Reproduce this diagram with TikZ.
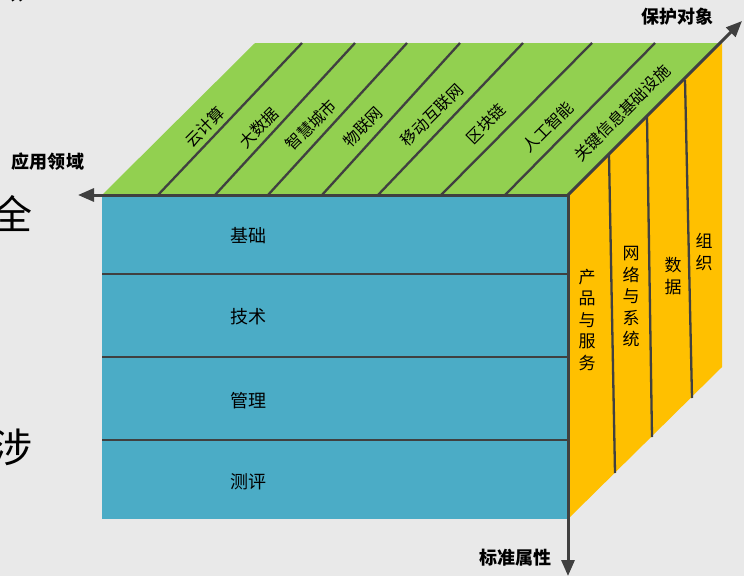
\documentclass[tikz,border=0pt]{standalone}
\usepackage{fontspec}
\newfontfamily\cjk{Noto Sans CJK SC}
\usetikzlibrary{arrows.meta}
\definecolor{bggray}{RGB}{233,233,233}
\definecolor{faceblue}{RGB}{75,172,198}
\definecolor{facegreen}{RGB}{146,208,80}
\definecolor{faceyellow}{RGB}{255,192,0}
\definecolor{edgegray}{RGB}{64,64,64}
\tikzstyle{axis}=[draw=edgegray, line width=3pt, -{Triangle[length=16pt,width=13pt]}]
\tikzstyle{divider}=[draw=edgegray, line width=2.3pt]
\tikzstyle{axislabel}=[font=\cjk\bfseries\fontsize{18}{18}\selectfont, inner sep=0pt]
\tikzstyle{toplabel}=[font=\cjk\fontsize{16}{16}\selectfont, rotate=45, inner sep=0pt]
\tikzstyle{sidelabel}=[font=\cjk\fontsize{17}{21.5}\selectfont, align=center, inner sep=0pt]
\tikzstyle{rowlabel}=[font=\cjk\fontsize{18}{18}\selectfont, inner sep=0pt]
\tikzstyle{slidetext}=[font=\cjk\fontsize{40}{40}\selectfont, inner sep=0pt]

\begin{document}
\begin{tikzpicture}[x=1pt, y=-1pt]
        \fill[bggray] (0,0) rectangle (744,576);
        \useasboundingbox (0,0) rectangle (744,576);
        % cut-off text of the slide
        \node[slidetext] (s1) at (12,214) {全};
        \node[slidetext] (s2) at (12,447) {涉};
        \node[slidetext] (s3) at (5,541) {，};
        \node[slidetext] (s4) at (30,8) {”};
        % corners of the cube
        \coordinate (o) at (568,195);
        \coordinate (fl) at (102,195);
        \coordinate (bl) at (102,519);
        \coordinate (br) at (568,519);
        \coordinate (tl) at (255,43);
        \coordinate (tr) at (722,43);
        \coordinate (rb) at (722,367);
        \coordinate (xend) at (78,195);
        \coordinate (yend) at (568,576);
        \coordinate (zend) at (742,21);
        % faces
        \fill[faceblue] (fl) rectangle (br);
        \fill[facegreen] (fl) -- (o) -- (tr) -- (tl) -- cycle;
        \fill[faceyellow] (o) -- (tr) -- (rb) -- (br) -- cycle;
        % dividers
        \foreach \y in {274,357,440} {
          \draw[divider] (102,\y) -- (568,\y);
        }
        \foreach \a/\b in {158/302, 215/355, 268/407, 322/460, 378/523, 441/592, 505/655} {
          \draw[divider] (\a,195) -- (\b,43);
        }
        \foreach \a/\b/\c/\d in {609/155/615/473, 647/117/652/437, 685/80/692/398} {
          \draw[divider] (\a,\b) -- (\c,\d);
        }
        % labels
        \foreach \x/\y/\t [count=\i] in {205/127/云计算, 259/128/大数据, 311/125/智慧城市, 363/127/物联网,
            432/115/移动互联网, 486/124/区块链, 548/127/人工智能, 622/113/关键信息基础设施} {
          \node[toplabel] (app\i) at (\x,\y) {\t};
        }
        \foreach \y/\t [count=\i] in {236/基础, 317/技术, 401/管理, 482/测评} {
          \node[rowlabel] (std\i) at (248,\y) {\t};
        }
        \node[sidelabel] (obj1) at (587,320) {产\\品\\与\\服\\务};
        \node[sidelabel] (obj2) at (631,297) {网\\络\\与\\系\\统};
        \node[sidelabel] (obj3) at (673,276) {数\\据};
        \node[sidelabel] (obj4) at (704,252) {组\\织};
        % axes
        \draw[axis] (o) -- (xend);
        \draw[axis] (o) -- (yend);
        \draw[axis] (o) -- (zend);
        \node[axislabel] (xl) at (48,162) {应用领域};
        \node[axislabel] (zl) at (677,17) {保护对象};
        \node[axislabel] (yl) at (515,558) {标准属性};
\end{tikzpicture}
\end{document}
